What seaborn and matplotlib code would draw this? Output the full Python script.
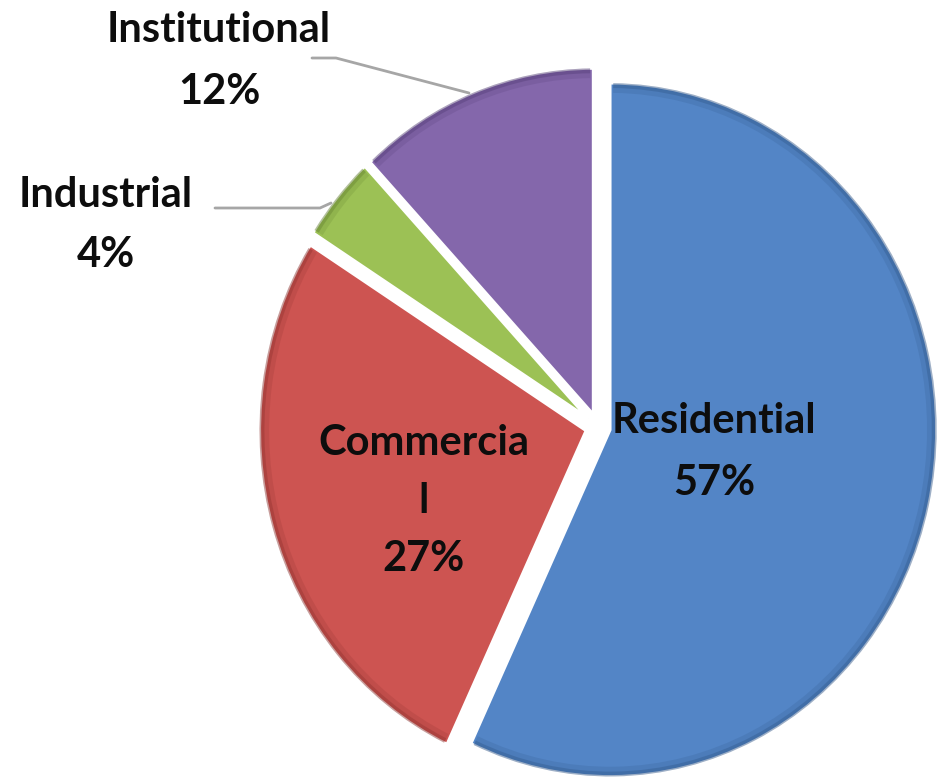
import matplotlib
matplotlib.use("Agg")
import matplotlib.pyplot as plt
from matplotlib.patches import Arc
from matplotlib.lines import Line2D
import seaborn as sns

categories = ["Residential", "Commercial", "Industrial", "Institutional"]
shares = [57, 27, 4, 12]
label_texts = ["Residential\n57%", "Commercia\nl\n27%", "Industrial\n4%", "Institutional\n12%"]
colors = ["#5385C6", "#CD5451", "#9CC155", "#8467AB"]
rim_colors = ["#2E5486", "#8A2F2C", "#5E7A2C", "#4E3872"]

sns.set_theme(style="white")
plt.rcParams["font.family"] = ["Lato", "DejaVu Sans"]

W, H = 943, 781
fig = plt.figure(figsize=(W / 100, H / 100), dpi=100)
ax = fig.add_axes([0, 0, 1, 1])

# pie geometry in pixels (slightly taller than wide, as in the 3-D original)
cx, cy = 598, 427
Rx, Ry = 327, 347

wedges, _ = ax.pie(shares, colors=colors, startangle=90, counterclock=False,
                   explode=[0.037] * 4, radius=1, center=(0, 0),
                   wedgeprops=dict(edgecolor="white", linewidth=2.5))

ax.set_aspect("auto")
ax.set_xlim(-cx / Rx, (W - cx) / Rx)
ax.set_ylim(-(H - cy) / Ry, cy / Ry)
ax.axis("off")

# darker bevel rim along each wedge's outer arc
for w, rc in zip(wedges, rim_colors):
    for rr, lw, al in [(0.985, 7, 0.18), (0.992, 3.5, 0.35)]:
        ax.add_patch(Arc(w.center, 2 * rr, 2 * rr, theta1=w.theta1 + 0.6,
                         theta2=w.theta2 - 0.6, color=rc, lw=lw, alpha=al))


def fx(x):
    return x / W


def fy(y):
    return 1 - y / H


fs = 30
tkw = dict(fontsize=fs, fontweight="bold", color="#0D0D0D", ha="center", va="center")
fig.text(fx(714), fy(452), label_texts[0], linespacing=1.8, **tkw)
fig.text(fx(424), fy(501), label_texts[1], linespacing=1.66, **tkw)
fig.text(fx(106), fy(225), label_texts[2], linespacing=1.68, **tkw)
fig.text(fx(219), fy(61), label_texts[3], linespacing=1.77, **tkw)

# leader lines
fig.add_artist(Line2D([fx(312), fx(336), fx(469)], [fy(58), fy(58), fy(93)],
                      color="#A6A6A6", lw=2))
fig.add_artist(Line2D([fx(215), fx(320), fx(331)], [fy(208), fy(208), fy(203)],
                      color="#A6A6A6", lw=2))

fig.savefig("out.png", dpi=100, facecolor="white")
